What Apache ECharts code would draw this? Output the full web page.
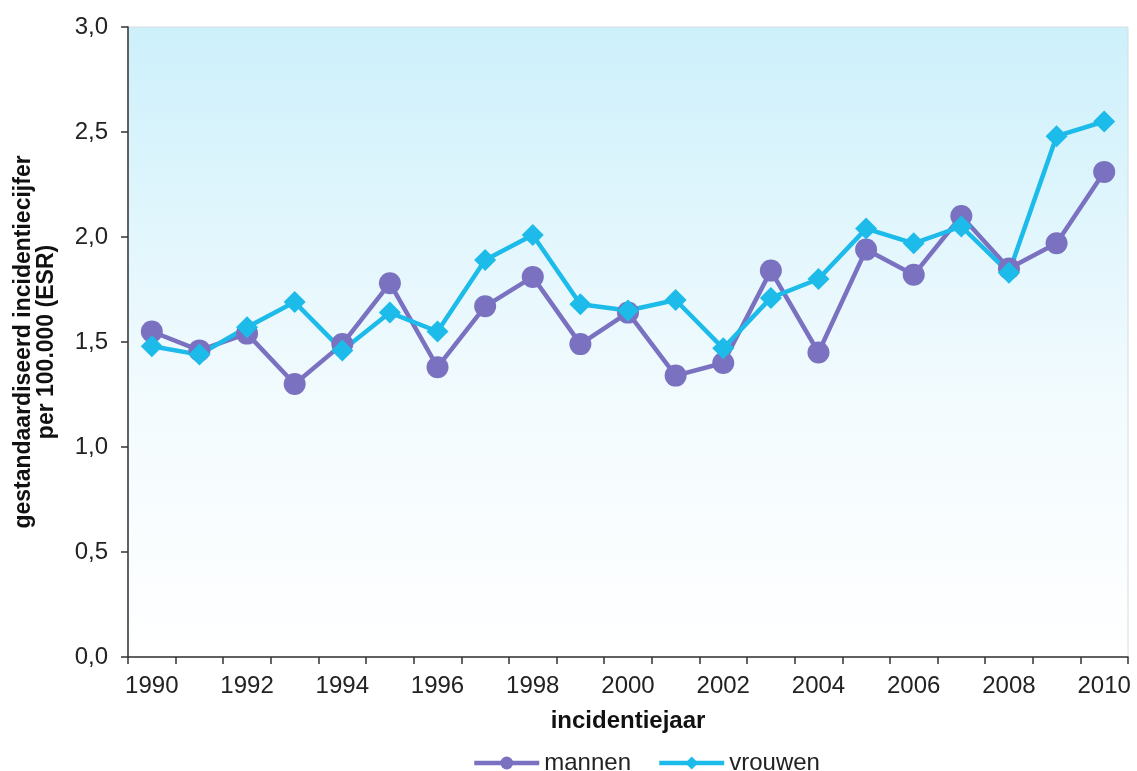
<!DOCTYPE html>
<html><head><meta charset="utf-8">
<script src="https://cdn.jsdelivr.net/npm/echarts@6/dist/echarts.min.js"></script>
<style>html,body{margin:0;padding:0;background:#fff}#c{width:1137px;height:771px}</style>
</head><body><div id="c"></div>
<script>
var years = ['1990','1991','1992','1993','1994','1995','1996','1997','1998','1999','2000','2001','2002','2003','2004','2005','2006','2007','2008','2009','2010'];
var mannen = [1.55,1.46,1.54,1.30,1.49,1.78,1.38,1.67,1.81,1.49,1.64,1.34,1.40,1.84,1.45,1.94,1.82,2.10,1.85,1.97,2.31];
var vrouwen = [1.48,1.44,1.57,1.69,1.46,1.64,1.55,1.89,2.01,1.68,1.65,1.70,1.47,1.71,1.80,2.04,1.97,2.05,1.83,2.48,2.55];
var chart = echarts.init(document.getElementById('c'));
var font = 'Liberation Sans, Arial, sans-serif';
chart.setOption({
  animation:false,
  textStyle:{fontFamily:font},
  grid:{left:128,right:9,top:27,bottom:114,show:true,borderWidth:1,borderColor:'#d8dde0',
    outerBoundsMode:'none',containLabel:false,
    backgroundColor:new echarts.graphic.LinearGradient(0,0,0,1,[{offset:0,color:'#cdf0fb'},{offset:0.6,color:'#f3fbfe'},{offset:1,color:'#ffffff'}])},
  legend:{top:746,left:467,itemWidth:65,itemHeight:16,itemGap:26,
    lineStyle:{width:4.5},
    textStyle:{fontSize:24,color:'#222',fontFamily:font},
    data:['mannen','vrouwen']},
  xAxis:{type:'category',data:years,boundaryGap:true,
    name:'incidentiejaar',nameLocation:'middle',nameGap:52,
    nameTextStyle:{fontSize:24,fontWeight:'bold',color:'#111'},
    axisLine:{lineStyle:{color:'#333',width:1.5}},
    axisTick:{show:true,interval:0,length:7,lineStyle:{color:'#333',width:1.5}},
    axisLabel:{interval:1,fontSize:24,color:'#222',margin:17}},
  yAxis:{type:'value',min:0,max:3,interval:0.5,
    name:'gestandaardiseerd incidentiecijfer\nper 100.000 (ESR)',nameLocation:'middle',nameGap:70,
    nameTextStyle:{fontSize:23,fontWeight:'bold',color:'#111',lineHeight:23},
    axisLine:{show:true,lineStyle:{color:'#333',width:1.5}},
    axisTick:{show:true,length:7,lineStyle:{color:'#333',width:1.5}},
    splitLine:{show:false},
    axisLabel:{fontSize:24,color:'#222',margin:20,formatter:function(v){return v.toFixed(1).replace('.',',');}}},
  series:[
    {name:'mannen',type:'line',data:mannen,symbol:'circle',symbolSize:22,
      lineStyle:{color:'#7a72c1',width:4.5},itemStyle:{color:'#7a72c1'}},
    {name:'vrouwen',type:'line',data:vrouwen,symbol:'diamond',symbolSize:22,
      lineStyle:{color:'#1cbbe9',width:4.5},itemStyle:{color:'#1cbbe9'}}
  ]
});
</script></body></html>
